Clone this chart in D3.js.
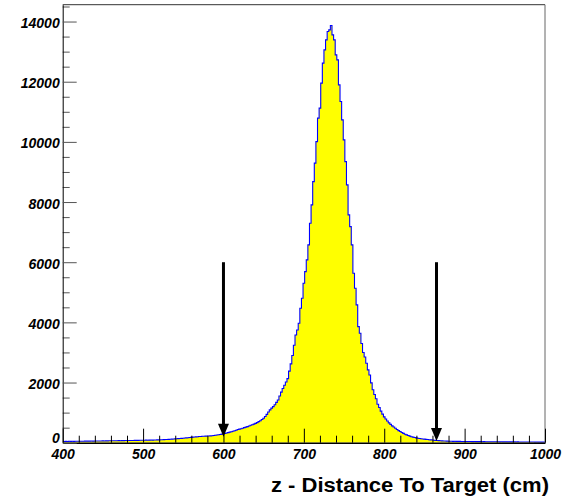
<!DOCTYPE html>
<html>
<head>
<meta charset="utf-8">
<script src="https://cdn.jsdelivr.net/npm/d3@7"></script>
<style>
  html, body { margin: 0; padding: 0; background: #fff; }
  svg { display: block; }
</style>
</head>
<body>
<svg id="chart" width="570" height="499"></svg>
<script>
// ---- data ----
const binStart = 401;
const binWidth = 2;
const counts = [
  42, 45, 41, 46, 44, 47, 45, 48, 46, 49,
  48, 50, 49, 52, 51, 53, 52, 55, 54, 56,
  55, 58, 57, 59, 60, 58, 62, 61, 63, 64,
  63, 66, 65, 67, 68, 67, 70, 69, 71, 72,
  73, 72, 75, 74, 76, 77, 78, 80, 79, 81,
  82, 84, 83, 86, 88, 87, 90, 92, 93, 95,
  97, 100, 103, 105, 108, 112, 115, 118, 122, 126,
  130, 136, 140, 145, 150, 156, 160, 166, 172, 178,
  184, 190, 195, 200, 204, 208, 212, 216, 220, 225,
  222, 226, 232, 238, 246, 254, 262, 272, 284, 296,
  310, 322, 336, 350, 366, 382, 398, 414, 440, 452,
  465, 480, 500, 518, 536, 556, 578, 596, 618, 642,
  668, 700, 730, 770, 815, 870, 940, 1020, 1090, 1150,
  1200, 1260, 1340, 1420, 1550, 1680, 1800, 1910, 2020, 2130,
  2380, 2620, 2900, 3240, 3582, 3748, 3971, 4470, 4802, 5301,
  5687, 6078, 6577, 7296, 7905, 8680, 9292, 10010, 10788, 11121,
  11952, 12617, 13057, 13392, 13668, 13724, 13868, 13558, 13392, 12893,
  12727, 11896, 11340, 10732, 10066, 9345, 8570, 7572, 7183, 6577,
  5635, 5135, 4580, 3858, 3638, 3300, 3000, 2850, 2640, 2420,
  2250, 1990, 1760, 1600, 1460, 1280, 1170, 1050, 950, 860,
  790, 720, 660, 610, 560, 520, 480, 440, 400, 370,
  340, 310, 280, 260, 240, 220, 200, 185, 172, 162,
  150, 142, 132, 125, 118, 112, 106, 100, 95, 90,
  80, 76, 72, 68, 64, 60, 57, 55, 52, 50,
  48, 47, 45, 46, 44, 43, 44, 42, 41, 42,
  40, 39, 40, 38, 37, 38, 36, 37, 35, 36,
  34, 35, 33, 34, 32, 33, 31, 32, 31, 30,
  31, 29, 30, 28, 29, 28, 27, 28, 26, 27,
  26, 25, 26, 24, 25, 24, 23, 24, 22, 23,
  22, 21, 22, 20, 21, 20, 19, 20, 19, 18
];
const xDomain = [400, 1000];
const yDomain = [0, 14560];
const xMajorTicks = [400, 500, 600, 700, 800, 900, 1000];
const yMajorTicks = [0, 2000, 4000, 6000, 8000, 10000, 12000, 14000];
const arrowX = [600, 865];
const arrowFrom = [6000, 6000];
const arrowTo = [200, 60];
const xTitle = "z - Distance To Target (cm)";

// ---- layout ----
const L = 62.7, R = 545, T = 4.7, B = 442.7;
const svg = d3.select("#chart");
const x = d3.scaleLinear().domain(xDomain).range([L, R]);
const y = d3.scaleLinear().domain(yDomain).range([B, T]);

svg.append("clipPath").attr("id", "plotclip")
  .append("rect").attr("x", L).attr("y", 0).attr("width", R - L).attr("height", B);

// histogram step path
const bins = counts.map((c, i) => ({x0: binStart + i * binWidth, x1: binStart + (i + 1) * binWidth, c}));
let outline = "";
bins.forEach((b, i) => {
  const xa = i === 0 ? xDomain[0] : b.x0;
  outline += (i === 0 ? "M" : "L") + x(xa) + "," + y(b.c) + "L" + x(b.x1) + "," + y(b.c);
});
const fillPath = "M" + x(xDomain[0]) + "," + y(0) + outline.replace(/^M/, "L") + "L" + x(bins[bins.length - 1].x1) + "," + y(0) + "Z";

const gHist = svg.append("g").attr("clip-path", "url(#plotclip)");
gHist.append("path").attr("d", fillPath).attr("fill", "#ffff00").attr("stroke", "none");
gHist.append("path").attr("d", outline).attr("fill", "none").attr("stroke", "#0000ff").attr("stroke-width", 1.1);

// frame top & right
svg.append("line").attr("x1", L).attr("x2", R).attr("y1", T).attr("y2", T).attr("stroke", "#333").attr("stroke-width", 1);
svg.append("line").attr("x1", R).attr("x2", R).attr("y1", T).attr("y2", B).attr("stroke", "#666").attr("stroke-width", 1);

const font = "'Liberation Sans', Arial, sans-serif";

// x axis
const xMinor = d3.range(400, 1001, 20).filter(v => v % 100 !== 0);
const gxMinor = svg.append("g").attr("transform", `translate(0,${B})`)
  .call(d3.axisBottom(x).tickValues(xMinor).tickSize(-7).tickSizeOuter(0).tickFormat(""));
gxMinor.select(".domain").remove();
const gx = svg.append("g").attr("transform", `translate(0,${B})`)
  .call(d3.axisBottom(x).tickValues(xMajorTicks).tickSize(-14).tickSizeOuter(0).tickFormat(d3.format("d")));
gx.select(".domain").attr("stroke-width", 1.5);
gx.selectAll("text").attr("y", 16.8).attr("dy", 0)
  .attr("font-family", font).attr("font-size", 14).attr("font-weight", "bold").attr("font-style", "italic").attr("fill", "#000");

// y axis
const yMinor = d3.range(0, 14560, 500).filter(v => v % 2000 !== 0);
const gyMinor = svg.append("g").attr("transform", `translate(${L},0)`)
  .call(d3.axisLeft(y).tickValues(yMinor).tickSize(-7).tickSizeOuter(0).tickFormat(""));
gyMinor.select(".domain").remove();
gyMinor.selectAll("line").attr("stroke", "#555");
const gy = svg.append("g").attr("transform", `translate(${L},0)`)
  .call(d3.axisLeft(y).tickValues(yMajorTicks).tickSize(-14).tickSizeOuter(0).tickFormat(d3.format("d")));
gy.selectAll(".tick line").attr("stroke", "#555");
gy.selectAll("text").attr("x", -3).attr("dy", 0).attr("y", d => d === 0 ? 0 : 6)
  .attr("font-family", font).attr("font-size", 14).attr("font-weight", "bold").attr("font-style", "italic").attr("fill", "#000");

// arrows
const head = 13, headW = 11;
arrowX.forEach((ax, i) => {
  const px = x(ax), y1 = y(arrowFrom[i]), y2 = y(arrowTo[i]);
  svg.append("line").attr("x1", px).attr("x2", px).attr("y1", y1).attr("y2", y2 - head + 1)
    .attr("stroke", "#000").attr("stroke-width", 3);
  svg.append("path")
    .attr("d", `M${px - headW / 2},${y2 - head}L${px + headW / 2},${y2 - head}L${px},${y2}Z`)
    .attr("fill", "#000");
});

// x title
svg.append("text").attr("x", 549).attr("y", 492).attr("text-anchor", "end")
  .attr("font-family", font).attr("font-size", 20).attr("font-weight", "bold")
  .attr("textLength", 278).attr("lengthAdjust", "spacingAndGlyphs")
  .attr("fill", "#000").text(xTitle);
</script>
</body>
</html>
